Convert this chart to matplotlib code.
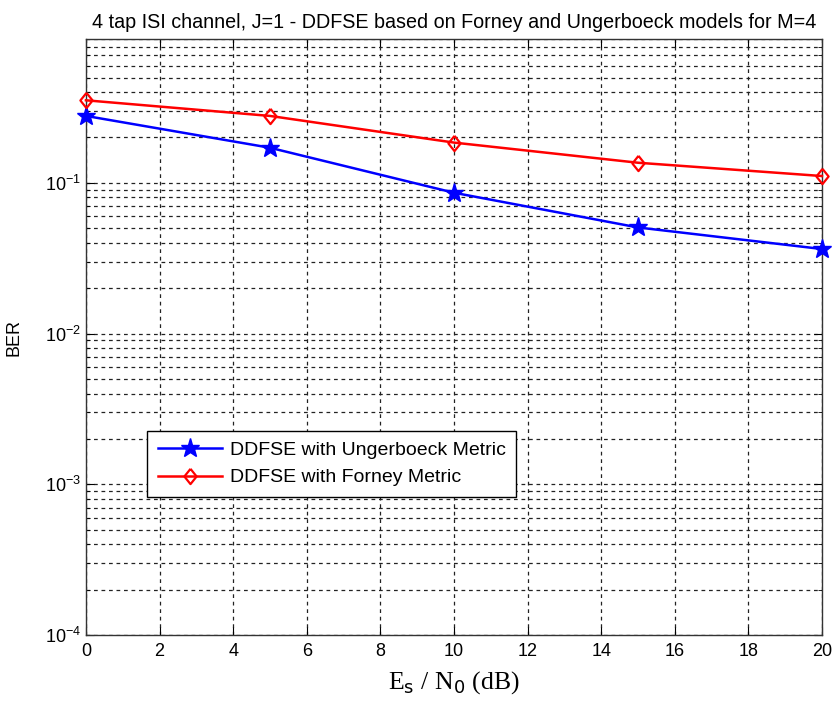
import matplotlib.pyplot as plt
import numpy as np
from matplotlib.ticker import LogLocator, FixedLocator

# BER vs Es/N0 for the two DDFSE metrics
snr_db = [0, 5, 10, 15, 20]
ber_ungerboeck = [0.278, 0.171, 0.086, 0.0506, 0.0364]
ber_forney = [0.353, 0.278, 0.185, 0.136, 0.111]
x_ticks = [0, 2, 4, 6, 8, 10, 12, 14, 16, 18, 20]

plt.rcParams['font.family'] = ['Liberation Sans', 'DejaVu Sans']

# slightly tall diamond, like matlab's 'd' marker
diamond = [(0, 1), (0.8, 0), (0, -1), (-0.8, 0), (0, 1)]

fig = plt.figure(figsize=(8.37, 7.02), dpi=100)
ax = fig.add_axes([0.1027, 0.0954, 0.8793, 0.849])

ax.semilogy(snr_db, ber_ungerboeck, 'b-', marker='*', ms=14, lw=1.8,
            clip_on=False, zorder=5, label='DDFSE with Ungerboeck Metric')
ax.semilogy(snr_db, ber_forney, 'r-', marker=diamond, ms=11, mfc='none', mew=1.6,
            lw=1.8, clip_on=False, zorder=5, label='DDFSE with Forney Metric')

ax.set_xlim(0, 20)
ax.set_ylim(1e-4, 0.9)
ax.xaxis.set_major_locator(FixedLocator(x_ticks))
ax.yaxis.set_major_locator(LogLocator(base=10, numticks=10))
ax.yaxis.set_minor_locator(LogLocator(base=10, subs=np.arange(2, 10), numticks=20))

grid_kw = dict(color='#222222', linestyle=(0, (3, 3)), linewidth=0.9)
ax.grid(True, which='major', axis='both', **grid_kw)
ax.grid(True, which='minor', axis='y', **grid_kw)

ax.tick_params(which='both', direction='in', top=True, right=True, labelsize=13)
ax.tick_params(axis='x', pad=6)
ax.tick_params(which='major', length=6)
ax.tick_params(which='minor', length=3)
for s in ax.spines.values():
    s.set_linewidth(1.0)
    s.set_color('#333333')

ax.set_title('4 tap ISI channel, J=1 - DDFSE based on Forney and Ungerboeck models for M=4',
             fontsize=14.2, pad=8)
ax.set_ylabel('BER', fontsize=13, labelpad=16)
ax.set_xlabel(r'E$_\mathrm{s}$ / N$_0$ (dB)', fontsize=18.5, family='Liberation Serif',
              labelpad=6)

leg = ax.legend(loc='lower left', bbox_to_anchor=(0.083, 0.2315), fontsize=14,
                fancybox=False, edgecolor='black', framealpha=1, borderpad=0.55,
                handlelength=3.3, handletextpad=0.4, labelspacing=0.5,
                borderaxespad=0)
leg.get_frame().set_linewidth(1.0)

fig.savefig('out.png', dpi=100)
